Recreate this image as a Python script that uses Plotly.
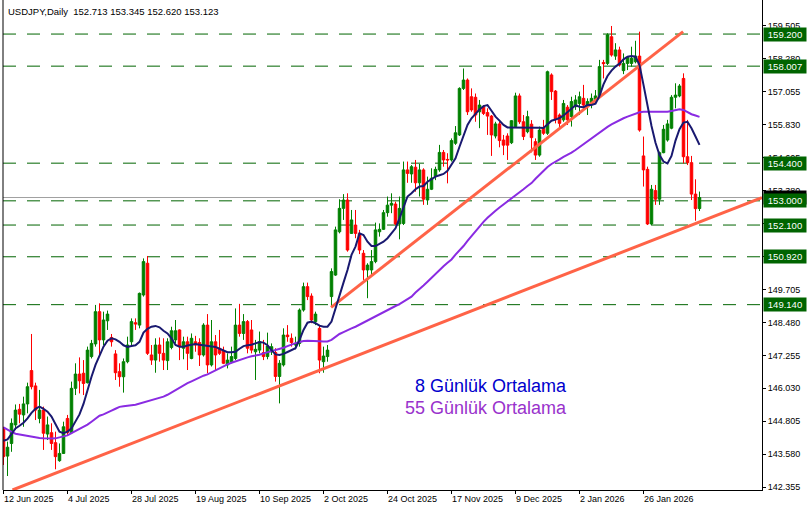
import plotly.graph_objects as go

# ---------------- data ----------------
opens = [144.54,143.51,143.98,144.67,145.25,145.04,145.45,146.69,146.12,144.91,
         145.22,144.33,144.38,144.01,143.34,143.61,144.91,144.38,146.03,146.56,
         146.59,146.24,147.21,147.68,148.88,147.83,148.54,147.92,147.31,146.65,
         146.46,147.02,147.76,148.47,148.38,149.50,150.68,147.27,147.08,147.64,
         147.33,147.06,147.55,147.83,148.20,147.52,147.76,147.14,147.76,147.73,
         147.27,148.38,146.90,147.76,147.52,147.43,146.90,147.02,147.14,148.38,
         148.07,148.51,148.20,147.39,147.45,147.36,147.21,147.39,147.36,146.47,
         146.90,148.01,147.89,147.64,147.70,148.94,149.81,149.46,148.51,148.26,
         147.02,147.21,149.44,150.24,151.85,152.72,153.03,151.79,152.10,151.79,
         151.05,150.43,150.43,150.74,151.85,151.94,152.56,152.84,152.88,152.14,
         152.16,154.15,154.00,154.25,153.67,154.15,153.03,153.43,153.90,154.15,
         154.80,154.54,154.52,155.14,155.45,157.18,157.49,156.87,156.85,156.31,
         156.50,156.28,156.15,155.41,155.86,155.26,155.41,155.16,155.76,156.90,
         155.94,155.57,155.85,155.20,154.70,155.70,155.51,157.68,157.08,156.19,
         156.01,156.48,156.13,156.50,156.62,156.81,156.56,156.65,156.77,156.87,
         158.14,158.11,159.10,158.38,158.61,157.84,158.11,158.11,158.17,158.38,
         154.67,154.17,152.14,153.38,153.06,154.79,155.26,155.70,156.85,156.90,
         157.55,154.64,154.42,153.25,152.713]
highs = [144.60,144.05,144.91,145.43,145.45,145.72,146.24,148.05,146.24,145.97,
         145.35,144.98,144.73,144.42,143.98,144.79,145.04,146.28,146.96,147.18,
         147.08,147.58,147.83,149.13,149.19,148.88,148.92,148.05,147.45,146.96,
         147.14,147.95,148.63,148.63,149.59,150.86,150.95,147.64,147.89,147.92,
         147.89,147.89,148.32,148.57,148.22,147.95,147.95,148.07,147.98,147.89,
         148.45,148.79,148.57,148.01,148.20,147.58,147.33,147.58,149.00,149.17,
         148.79,148.57,148.57,147.83,148.14,147.83,148.10,147.70,147.52,147.08,
         148.26,148.38,148.07,147.95,149.00,149.96,149.96,149.56,148.88,148.38,
         147.58,147.64,150.49,152.04,153.06,153.25,153.28,152.66,152.66,151.92,
         151.17,150.68,151.17,152.19,152.16,152.66,153.16,153.28,152.97,153.16,
         154.46,154.46,154.33,154.52,154.37,154.21,153.90,154.21,154.27,155.08,
         154.89,154.77,155.32,155.78,157.22,157.92,157.55,157.18,156.99,156.75,
         156.56,156.44,156.19,155.94,155.94,155.45,155.51,156.00,157.02,156.99,
         156.19,156.35,156.00,155.32,155.76,156.01,157.84,157.74,157.12,156.25,
         156.75,156.56,156.87,156.93,157.06,157.31,156.81,156.99,157.12,158.24,
         158.24,159.23,159.50,158.86,158.73,158.48,158.36,158.73,158.95,159.29,
         155.39,154.27,153.59,153.59,154.83,155.82,156.01,156.93,157.37,157.34,
         157.74,156.01,154.67,153.80,153.345]
lows = [143.18,142.77,143.67,144.48,144.73,144.60,145.10,145.99,144.85,144.73,
        143.74,144.11,143.74,143.02,143.30,143.59,144.30,144.33,145.78,145.84,
        145.78,146.21,147.14,147.58,147.27,147.64,148.20,147.58,146.34,146.09,
        145.87,146.96,147.58,148.20,148.26,149.44,147.27,146.90,146.61,147.02,
        146.71,146.71,147.48,147.70,147.08,147.11,146.71,147.11,147.39,146.86,
        147.21,146.59,146.84,146.71,147.27,146.93,146.77,146.96,147.08,147.95,
        147.83,147.33,147.33,146.34,147.33,147.08,147.11,147.27,146.28,145.47,
        146.84,147.76,147.58,147.48,147.58,148.88,149.31,148.45,148.38,146.59,
        146.61,147.02,149.07,150.21,151.79,152.29,151.11,151.77,151.61,151.02,
        150.06,149.38,150.18,150.68,151.67,151.92,152.41,152.54,152.10,151.57,
        152.10,153.67,153.67,153.34,153.16,152.85,152.85,153.40,153.77,154.08,
        154.27,153.65,154.46,155.08,155.41,157.12,156.19,156.31,155.94,155.70,
        156.19,155.45,154.67,155.32,154.99,154.70,154.52,155.11,155.73,155.86,
        155.26,155.51,154.80,154.52,154.64,155.45,155.45,156.75,155.88,155.73,
        155.94,155.82,155.76,156.38,156.19,156.48,156.19,156.44,156.62,156.81,
        157.55,158.05,158.36,158.24,157.99,157.71,157.86,157.99,158.11,155.57,
        153.53,152.10,152.10,152.85,152.85,154.77,155.20,155.66,156.44,156.85,
        154.39,154.33,153.03,152.26,152.620]
closes = [143.49,143.84,144.73,145.22,145.07,145.45,146.09,146.09,145.22,145.22,
          144.36,144.67,143.98,143.49,143.61,144.60,144.38,146.03,146.56,146.31,
          146.21,147.45,147.70,148.88,147.83,148.57,148.79,147.76,146.61,146.46,
          147.02,147.64,148.51,148.42,149.56,150.74,147.33,147.08,147.64,147.33,
          147.08,147.76,148.17,148.17,147.58,147.76,147.33,147.89,147.64,147.27,
          148.38,146.90,147.76,147.27,147.33,146.96,147.08,147.21,148.38,148.07,
          148.51,147.52,147.45,147.48,147.76,147.21,147.60,147.58,146.47,146.96,
          148.01,147.95,147.73,147.70,148.94,149.81,149.44,148.57,148.79,147.08,
          147.23,147.45,150.37,151.92,152.72,153.03,151.17,152.29,151.79,151.17,
          150.43,150.61,150.74,151.92,151.94,152.56,152.84,152.91,152.14,152.72,
          154.15,154.02,154.27,153.67,154.15,153.06,153.43,153.84,154.17,154.80,
          154.52,154.52,155.24,155.53,157.18,157.49,156.31,156.38,156.19,156.56,
          156.25,156.15,155.45,155.86,155.24,155.07,155.07,155.98,156.90,155.94,
          155.39,156.13,155.35,154.70,155.63,155.51,157.80,157.06,156.03,155.88,
          156.62,156.01,156.69,156.75,156.87,156.56,156.69,156.81,156.90,157.99,
          158.10,159.17,158.42,158.61,158.05,158.11,158.33,158.30,158.38,155.63,
          154.15,152.14,153.43,153.06,154.79,155.66,155.86,156.85,156.93,157.27,
          154.64,154.42,153.25,152.71,153.123]

ma8 = [144.08,144.13,144.33,144.54,144.64,144.75,144.91,145.12,145.27,145.35,
       145.27,145.16,144.98,144.67,144.42,144.36,144.42,144.54,144.79,145.06,
       145.45,145.97,146.46,146.90,147.27,147.58,147.80,147.89,147.85,147.76,
       147.63,147.57,147.60,147.63,147.76,148.10,148.24,148.32,148.35,148.30,
       148.17,148.07,147.89,147.64,147.58,147.58,147.62,147.65,147.68,147.65,
       147.63,147.59,147.58,147.57,147.50,147.42,147.37,147.37,147.39,147.50,
       147.60,147.63,147.65,147.70,147.75,147.73,147.63,147.45,147.29,147.27,
       147.31,147.38,147.45,147.52,147.83,148.20,148.47,148.51,148.45,148.36,
       148.32,148.32,148.51,149.00,149.56,149.96,150.43,150.99,151.30,151.79,
       151.73,151.48,151.32,151.32,151.40,151.48,151.61,151.79,151.98,152.35,
       152.78,153.16,153.28,153.43,153.53,153.55,153.71,153.80,153.90,153.95,
       154.00,154.12,154.33,154.58,155.01,155.45,155.82,156.07,156.25,156.40,
       156.52,156.56,156.35,156.13,155.98,155.82,155.73,155.73,155.74,155.74,
       155.73,155.73,155.73,155.73,155.72,155.71,155.83,155.98,156.02,156.08,
       156.17,156.30,156.44,156.55,156.50,156.48,156.56,156.56,156.61,156.90,
       157.33,157.64,157.84,157.99,158.10,158.26,158.36,158.38,158.36,158.05,
       157.31,156.48,155.78,155.16,154.70,154.46,154.39,154.67,155.24,155.66,
       155.91,155.94,155.70,155.39,155.08]
ma55 = [144.58,144.48,144.41,144.34,144.31,144.28,144.27,144.24,144.21,144.18,
        144.17,144.16,144.16,144.17,144.20,144.23,144.28,144.36,144.44,144.52,
        144.59,144.68,144.79,144.91,145.01,145.06,145.12,145.20,145.27,145.34,
        145.36,145.39,145.40,145.42,145.46,145.51,145.55,145.58,145.62,145.67,
        145.72,145.79,145.88,145.98,146.07,146.14,146.22,146.29,146.37,146.44,
        146.50,146.55,146.63,146.70,146.77,146.85,146.92,146.98,147.03,147.10,
        147.13,147.18,147.22,147.24,147.28,147.33,147.37,147.41,147.44,147.49,
        147.54,147.60,147.67,147.71,147.75,147.79,147.80,147.80,147.80,147.78,
        147.77,147.77,147.83,147.95,148.05,148.12,148.20,148.26,148.32,148.40,
        148.48,148.56,148.63,148.71,148.79,148.86,148.94,149.01,149.09,149.16,
        149.25,149.34,149.44,149.59,149.71,149.85,149.99,150.14,150.28,150.43,
        150.57,150.70,150.82,151.00,151.15,151.32,151.51,151.69,151.88,152.06,
        152.22,152.37,152.51,152.63,152.75,152.86,152.96,153.08,153.20,153.32,
        153.43,153.55,153.66,153.82,153.97,154.12,154.26,154.37,154.47,154.54,
        154.63,154.70,154.79,154.89,155.00,155.11,155.22,155.34,155.43,155.53,
        155.65,155.75,155.84,155.92,156.01,156.07,156.13,156.19,156.24,156.29,
        156.31,156.31,156.30,156.30,156.30,156.30,156.31,156.34,156.38,156.40,
        156.38,156.29,156.22,156.17,156.12]

# trend lines: (bar index, price) end points
trend_low_x = [2.25, 189.6]
trend_low_y = [142.25, 153.12]
trend_up_x = [81.9, 169.9]
trend_up_y = [149.04, 159.29]

levels = [159.200, 158.007, 154.400, 153.000, 152.100, 150.920, 149.140]
bid_price = 153.123

date_ticks = [0, 16, 32, 48, 64, 80, 96, 112, 128, 144, 160]
date_labels = ["12 Jun 2025", "4 Jul 2025", "28 Jul 2025", "19 Aug 2025", "10 Sep 2025",
               "2 Oct 2025", "24 Oct 2025", "17 Nov 2025", "9 Dec 2025", "2 Jan 2026",
               "26 Jan 2026"]
y_ticks = [142.355 + 1.225 * k for k in range(15)]
# tick labels fully hidden behind level labels in the reference
hidden_ticks = ["152.155", "150.930"]

header = "USDJPY,Daily  152.713 153.345 152.620 153.123"
legend8 = "8 Günlük Ortalama"
legend55 = "55 Günlük Ortalama"

# ---------------- figure ----------------
FONT = "Liberation Sans, Arial, sans-serif"
xs = list(range(len(closes)))
fig = go.Figure()

# horizontal dashed levels
for lv in levels:
    fig.add_shape(type="line", xref="paper", x0=0, x1=1, yref="y", y0=lv, y1=lv,
                  line=dict(color="#006400", width=1, dash="13px,11px"), layer="below")
# bid line
fig.add_shape(type="line", xref="paper", x0=0, x1=1, yref="y", y0=bid_price, y1=bid_price,
              line=dict(color="#A0A0A0", width=1), layer="below")

fig.add_trace(go.Scatter(x=trend_low_x, y=trend_low_y, mode="lines",
                         line=dict(color="#FF6347", width=3), hoverinfo="skip"))
fig.add_trace(go.Scatter(x=trend_up_x, y=trend_up_y, mode="lines",
                         line=dict(color="#FF6347", width=3), hoverinfo="skip"))

fig.add_trace(go.Candlestick(
    x=xs, open=opens, high=highs, low=lows, close=closes,
    increasing=dict(line=dict(color="#008000", width=1), fillcolor="#008000"),
    decreasing=dict(line=dict(color="#FF0000", width=1), fillcolor="#FF0000"),
    whiskerwidth=0))

fig.add_trace(go.Scatter(x=xs, y=ma55, mode="lines",
                         line=dict(color="#8A2BE2", width=2), hoverinfo="skip"))
fig.add_trace(go.Scatter(x=xs, y=ma8, mode="lines",
                         line=dict(color="#191970", width=2), hoverinfo="skip"))

# left border
fig.add_shape(type="line", xref="paper", yref="paper", x0=0, x1=0, y0=0, y1=1,
              line=dict(color="black", width=1))

annotations = []
# current price black label (mostly hidden)
annotations.append(dict(x=1, xref="paper", xanchor="left", y=bid_price, yref="y",
                        text="153.123", showarrow=False, bgcolor="black",
                        font=dict(family=FONT, size=9.5, color="white"),
                        xshift=1, borderpad=1, width=40))
for lv in levels:
    annotations.append(dict(x=1, xref="paper", xanchor="left", y=lv, yref="y",
                            text=f"{lv:.3f}", showarrow=False, bgcolor="#006400",
                            font=dict(family=FONT, size=9.5, color="white"),
                            xshift=1, borderpad=1, width=40))
for tv, tl in zip(date_ticks, date_labels):
    annotations.append(dict(x=tv, xref="x", xanchor="left", y=0, yref="paper",
                            yanchor="top", text=tl, showarrow=False, xshift=-2, yshift=-2,
                            font=dict(family=FONT, size=9, color="black")))
annotations.append(dict(x=0, xref="paper", xanchor="left", y=1, yref="paper", yanchor="top",
                        text=header, showarrow=False, xshift=3, yshift=-4,
                        font=dict(family=FONT, size=9.5, color="black")))
annotations.append(dict(x=0.7457, xref="paper", xanchor="right", y=0.212, yref="paper",
                        yanchor="middle", text=legend8, showarrow=False,
                        font=dict(family=FONT, size=18, color="#0000CD")))
annotations.append(dict(x=0.7457, xref="paper", xanchor="right", y=0.167, yref="paper",
                        yanchor="middle", text=legend55, showarrow=False,
                        font=dict(family=FONT, size=18, color="#9932CC")))

y_ticktext = []
for v in y_ticks:
    s = f"{v:.3f}"
    y_ticktext.append("" if s in hidden_ticks else s)

fig.update_layout(
    width=808, height=511,
    margin=dict(l=3, r=46, t=0, b=21),
    paper_bgcolor="white", plot_bgcolor="white",
    showlegend=False,
    boxgap=0.1,
    annotations=annotations,
    xaxis=dict(range=[-0.125, 189.625], rangeslider=dict(visible=False),
               showgrid=False, zeroline=False, showline=True, linecolor="black",
               linewidth=1, tickmode="array", tickvals=date_ticks,
               ticktext=["" for _ in date_ticks], ticks="outside", ticklen=3,
               tickcolor="black"),
    yaxis=dict(range=[142.25, 160.466], side="right", showgrid=False, zeroline=False,
               showline=True, linecolor="black", linewidth=1, tickmode="array",
               tickvals=y_ticks, ticktext=y_ticktext,
               ticks="outside", ticklen=3, tickcolor="black",
               tickfont=dict(family=FONT, size=9, color="black")),
)

fig.write_html("out.html", config={"displayModeBar": False},
               post_script="document.body.style.margin='0';")
